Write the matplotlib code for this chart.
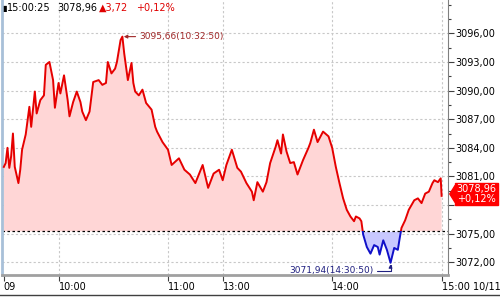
import numpy as np
import matplotlib
matplotlib.use('Agg')
import matplotlib.pyplot as plt
from matplotlib.patches import Rectangle, Polygon
from matplotlib.lines import Line2D
from matplotlib.ticker import FixedLocator, MultipleLocator, FuncFormatter
import matplotlib.transforms as mtransforms

# minuty handlu od 9:30 (przerwa 11:30-13:00 pominieta)
minutes = [0, 1, 2, 3, 4, 5, 6, 8, 9, 10, 12, 14, 15, 17, 18, 20, 22, 23, 25, 27,
           28, 30, 31, 33, 35, 36, 38, 40, 42, 43, 45, 47, 49, 52, 54, 56, 57, 59, 61, 62,
           64, 65, 66, 68, 70, 71, 72, 74, 76, 78, 81, 83, 84, 87, 90, 92, 96, 99, 102, 105,
           109, 112, 115, 118, 120, 122, 125, 128, 130, 133, 136, 137, 139, 142, 144, 146, 149, 150, 152, 153,
           155, 157, 159, 161, 164, 167, 168, 170, 172, 175, 178, 180, 182, 184, 186, 188, 190, 192, 193, 195,
           196, 197, 199, 201, 203, 205, 206, 208, 210, 212, 214, 216, 217, 218, 220, 222, 225, 227, 229, 231,
           233, 235, 236, 238, 239.5, 240]
prices = [3082.0, 3082.4, 3084.0, 3081.9, 3083.1, 3085.5, 3082.0, 3080.3, 3081.7, 3083.8,
          3085.4, 3088.3, 3086.2, 3089.9, 3087.6, 3089.0, 3089.5, 3092.7, 3093.0, 3091.1,
          3088.2, 3090.8, 3089.7, 3091.6, 3089.0, 3087.3, 3088.8, 3089.9, 3088.8, 3087.8,
          3086.9, 3087.8, 3090.9, 3091.1, 3090.6, 3090.8, 3093.0, 3091.8, 3092.3, 3093.0,
          3095.3, 3095.66, 3093.9, 3091.1, 3092.9, 3090.8, 3089.9, 3089.5, 3090.1, 3088.7,
          3088.0, 3086.2, 3085.7, 3084.6, 3083.8, 3082.2, 3082.9, 3081.7, 3081.2, 3080.3,
          3082.2, 3079.8, 3081.3, 3081.7, 3080.6, 3082.2, 3083.8, 3081.9, 3081.5, 3080.3,
          3079.4, 3078.5, 3080.4, 3079.4, 3080.4, 3082.4, 3084.1, 3084.8, 3083.4, 3085.4,
          3083.6, 3082.4, 3082.5, 3081.2, 3082.7, 3084.0, 3084.5, 3085.9, 3084.6, 3085.7,
          3085.2, 3084.0, 3082.0, 3080.3, 3078.7, 3077.5, 3076.8, 3076.3, 3076.8, 3076.6,
          3076.3, 3074.9, 3073.6, 3072.9, 3073.8, 3073.6, 3072.8, 3074.3, 3073.3, 3071.94,
          3073.5, 3073.3, 3074.5, 3075.6, 3076.4, 3077.5, 3078.5, 3078.7, 3078.2, 3079.2,
          3079.4, 3080.3, 3080.6, 3080.4, 3080.8, 3078.96]

prev_close = 3075.24
last_price = 3078.96
change = 3.72
change_pct = 0.12
peak_min, peak_val, peak_time = 65, 3095.66, '10:32:50'
low_min, low_val, low_time = 212, 3071.94, '14:30:50'

tick_pos = [0, 30, 90, 120, 180, 240]
tick_labels = ['09', '10:00', '11:00', '13:00', '14:00', '15:00 10/11']
y_ticks = [3072, 3075, 3078, 3081, 3084, 3087, 3090, 3093, 3096]
hidden_label = 3078  # przykryte przez ramke z kursem


def fmt(v):
    return '%.2f' % v


def ylabel(v, p):
    if abs(v - hidden_label) < 0.01:
        return ''
    return fmt(v).replace('.', ',')


fig = plt.figure(figsize=(5, 2.97), dpi=100)
ax = fig.add_axes([0.004, 0.074, 0.892, 0.926])
ax.set_xlim(-1, 243.5)
ax.set_ylim(3070.66, 3099.5)

# siatka
for t in tick_pos[1:]:
    ax.axvline(t, color='#c8c8c8', lw=0.8, ls=(0, (2, 2)), zorder=0)
for v in y_ticks:
    ax.axhline(v, color='#c8c8c8', lw=0.8, ls=(0, (2, 2)), zorder=0)

x = np.array(minutes)
y = np.array(prices)

# wypelnienie nad i pod poprzednim zamknieciem
ax.fill_between(x, y, prev_close, where=y >= prev_close, interpolate=True,
                color='#ffd6d6', lw=0, zorder=1)
ax.fill_between(x, y, prev_close, where=y <= prev_close, interpolate=True,
                color='#c8c8ff', lw=0, zorder=1)

red, = ax.plot(x, y, color='#e60000', lw=1.4, zorder=3)
blue, = ax.plot(x, y, color='#1010c8', lw=1.4, zorder=3)
red.set_clip_path(Rectangle((-10, prev_close), 300, 100, transform=ax.transData))
blue.set_clip_path(Rectangle((-10, prev_close - 100), 300, 100, transform=ax.transData))

ax.axhline(prev_close, color='black', lw=0.9, ls=(0, (2, 2)), zorder=2)

# maksimum i minimum
ax.annotate(fmt(peak_val).replace('.', ',') + '(' + peak_time + ')',
            xy=(peak_min, peak_val), xytext=(74.5, peak_val),
            ha='left', va='center', fontsize=6.5, color='#a02828',
            arrowprops=dict(arrowstyle='-|>', color='#a02828', lw=0.8,
                            mutation_scale=5, shrinkA=1, shrinkB=1))
ax.annotate(fmt(low_val).replace('.', ',') + '(' + low_time + ')',
            xy=(low_min, low_val), xytext=(202.5, 3071.1),
            ha='right', va='center', fontsize=6.5, color='#202080',
            arrowprops=dict(arrowstyle='-|>', color='#202080', lw=0.8,
                            mutation_scale=5, shrinkA=1, shrinkB=1,
                            connectionstyle='angle,angleA=0,angleB=90,rad=0'))

# osie
ax.yaxis.tick_right()
ax.yaxis.set_major_locator(FixedLocator(y_ticks))
ax.yaxis.set_minor_locator(MultipleLocator(1.5))
ax.yaxis.set_major_formatter(FuncFormatter(ylabel))
ax.tick_params(axis='y', which='major', length=4, width=0.8, color='#404040',
               labelsize=7, pad=1)
ax.tick_params(axis='y', which='minor', length=2, width=0.8, color='#404040')
ax.set_xticks(tick_pos)
ax.set_xticklabels(tick_labels)
ax.tick_params(axis='x', length=4, width=0.8, color='#404040', labelsize=7, pad=1)
for lab in ax.get_xticklabels():
    lab.set_ha('left')

ax.spines['top'].set_visible(False)
ax.spines['left'].set_color('#a8c0d8')
ax.spines['left'].set_linewidth(2)
ax.spines['right'].set_color('#808080')
ax.spines['bottom'].set_color('#a0a0a0')
ax.spines['bottom'].set_linewidth(2)

# ramka z ostatnim kursem
trans = mtransforms.blended_transform_factory(ax.transAxes, ax.transData)
box_y = last_price + 0.2
ax.text(1.063, box_y, fmt(last_price).replace('.', ',') + '\n+' + fmt(change_pct).replace('.', ',') + '%',
        transform=trans, ha='center', va='center', fontsize=7, color='white',
        linespacing=1.0, clip_on=False, zorder=6,
        bbox=dict(boxstyle='square,pad=0.15', fc='#ff0000', ec='#ff0000'))
ax.add_patch(Polygon([[1.004, box_y], [1.016, box_y + 0.9], [1.016, box_y - 0.9]],
                     closed=True, transform=trans, color='#ff0000', clip_on=False, zorder=6))

# naglowek
fig.text(0.004, 0.973, '\u25ae', fontsize=6, va='center', color='black')
fig.text(0.014, 0.973, '15:00:25', fontsize=7, va='center', color='black')
fig.text(0.114, 0.973, fmt(last_price).replace('.', ','), fontsize=7, va='center', color='black')
fig.text(0.198, 0.973, '\u25b2' + fmt(change).replace('.', ','), fontsize=7, va='center', color='#e00000')
fig.text(0.272, 0.973, '+' + fmt(change_pct).replace('.', ',') + '%', fontsize=7, va='center', color='#e00000')

fig.add_artist(Line2D([0, 1], [0.0067, 0.0067], transform=fig.transFigure, color='#404040', lw=1))

fig.savefig('out.png', dpi=100)
